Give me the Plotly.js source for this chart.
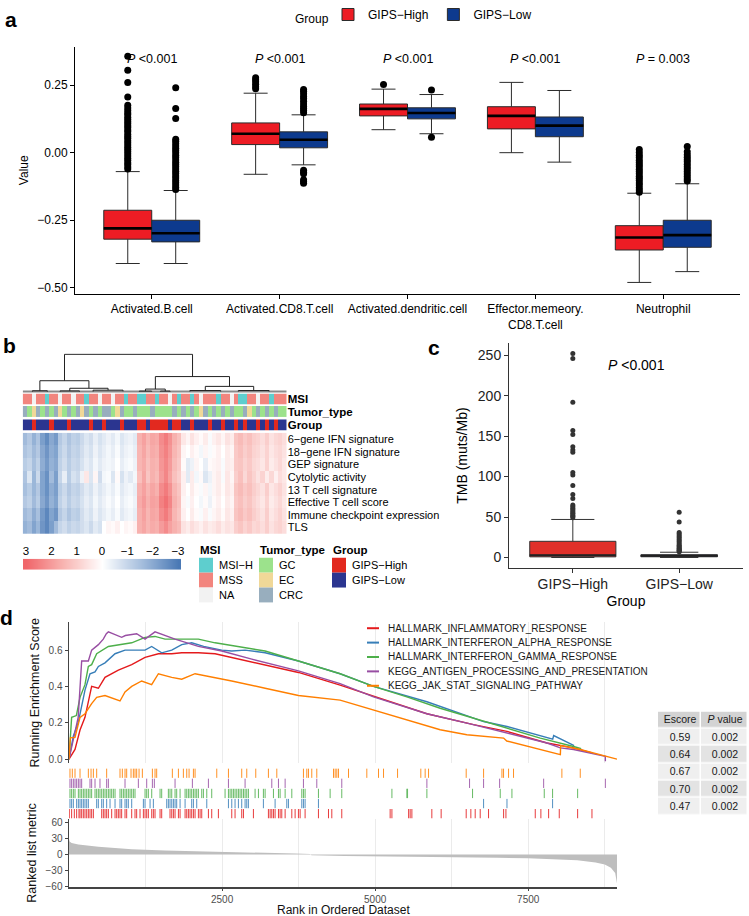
<!DOCTYPE html>
<html><head><meta charset="utf-8">
<script src="https://cdn.plot.ly/plotly-3.0.1.min.js"></script>
<style>html,body{margin:0;padding:0;background:#fff;}#chart{width:749px;height:916px;}</style>
</head><body><div id="chart"></div>
<script>
// ================= Panel a: immune cell scores =================
const cellTypes = ['Activated.B.cell','Activated.CD8.T.cell','Activated.dendritic.cell','Effector.memeory.<br>CD8.T.cell','Neutrophil'];
const groupNames = ['GIPS\u2212High','GIPS\u2212Low'];
const pValuesA = ['&lt;0.001','&lt;0.001','&lt;0.001','&lt;0.001','= 0.003'];
const highQ1 = [-0.32, 0.03, 0.136, 0.088, -0.36];
const highMedian = [-0.28, 0.07, 0.162, 0.136, -0.314];
const highQ3 = [-0.213, 0.11, 0.18, 0.17, -0.27];
const highLower = [-0.41, -0.08, 0.085, 0.0, -0.48];
const highUpper = [-0.07, 0.22, 0.235, 0.26, -0.15];
const lowQ1 = [-0.33, 0.018, 0.125, 0.059, -0.35];
const lowMedian = [-0.298, 0.048, 0.147, 0.1, -0.305];
const lowQ3 = [-0.25, 0.077, 0.166, 0.132, -0.25];
const lowLower = [-0.41, -0.045, 0.07, -0.035, -0.44];
const lowUpper = [-0.14, 0.14, 0.215, 0.23, -0.115];
const highOutliers = [
  [0.357,0.305,0.26,0.206,0.175,0.165,0.156,0.147,0.14,0.131,0.124,0.115,0.108,0.1,0.093,0.084,0.077,0.068,0.06,0.053,0.044,0.037,0.028,0.02,0.013,0.004,-0.004,-0.012,-0.021,-0.028,-0.037,-0.044,-0.053,-0.06],
  [0.236,0.244,0.253,0.262,0.27,0.277],
  [0.252],
  [],
  [0.012,0.001,-0.01,-0.018,-0.028,-0.036,-0.045,-0.052,-0.061,-0.07,-0.078,-0.087,-0.095,-0.103,-0.112,-0.12,-0.13,-0.138,-0.146]
];
const lowOutliers = [
  [0.24,0.163,0.126,0.05,0.042,0.033,0.025,0.016,0.008,0.0,-0.01,-0.018,-0.027,-0.035,-0.044,-0.052,-0.06,-0.069,-0.077,-0.086,-0.094,-0.103,-0.111,-0.12,-0.128,-0.136],
  [0.148,0.156,0.163,0.171,0.18,0.19,0.2,0.208,0.218,0.227,0.234,-0.065,-0.072,-0.078,-0.1,-0.107,-0.113],
  [0.232,0.057],
  [],
  [0.023,0.003,-0.008,-0.017,-0.026,-0.034,-0.043,-0.052,-0.06,-0.07,-0.079,-0.088,-0.097,-0.105]
];

// ================= Panel b: heatmap =================
const heatRowNames = ['6\u2212gene IFN signature','18\u2212gene IFN signature','GEP signature','Cytolytic activity','13 T cell signature','Effective T cell score','Immune checkpoint expression','TLS'];
const ifn6 = [-1.6,-1.3,-1.8,-1.4,-2.2,-2.6,-2.0,-2.3,-1.3,-1.0,-1.4,-1.1,-1.2,-0.9,-0.6,-0.8,-0.4,-0.7,-0.5,-0.3,-0.5,-0.2,-0.6,-0.4,-0.3,-0.5,1.6,1.9,1.5,1.8,1.7,2.3,2.6,2.2,1.6,1.3,0.5,0.2,0.6,0.3,0.1,0.4,-0.1,0.3,0.5,0.2,0.6,0.4,1.2,1.4,1.1,1.3,1.0,0.9,0.7,1.0,0.6,0.8,0.9,0.7];
const ifn18 = [-1.4,-1.2,-1.6,-1.3,-2.0,-2.4,-1.9,-2.1,-1.2,-0.9,-1.3,-1.0,-1.1,-0.8,-0.5,-0.7,-0.3,-0.6,-0.4,-0.2,-0.4,-0.1,-0.5,-0.3,-0.2,-0.4,1.5,1.8,1.4,1.7,1.6,2.2,2.5,2.1,1.5,1.2,0.2,0.0,0.3,0.1,-0.2,0.2,-0.1,0.1,0.3,0.0,0.4,0.2,1.1,1.3,1.0,1.2,0.9,0.8,0.6,0.9,0.5,0.7,0.8,0.6];
const gep = [-1.2,-1.0,-1.5,-1.1,-1.9,-2.3,-1.8,-2.0,-1.1,-0.8,-1.2,-0.9,-1.0,-0.7,-0.4,-0.6,-0.2,-0.5,-0.3,-0.2,-0.3,0.0,-0.4,-0.2,-0.1,-0.3,1.5,1.7,1.3,1.6,1.5,2.1,2.4,2.0,1.4,1.1,0.1,-0.5,-0.3,0.2,0.0,-0.4,0.1,0.2,0.3,-0.1,0.4,0.3,1.1,1.2,0.9,1.1,0.8,0.7,0.5,0.9,0.4,0.6,0.8,0.5];
const cytolytic = [-1.4,-0.6,-1.7,-0.9,-2.1,-2.5,-1.6,-2.2,-1.0,-0.4,-1.2,-0.7,-0.9,-0.3,0.5,-0.6,0.2,-0.8,-0.2,-0.1,-0.6,0.1,-0.7,-0.3,-0.5,-0.2,1.3,1.8,1.2,1.6,1.4,2.0,2.4,1.9,1.3,1.0,0.3,-0.5,0.4,-0.2,0.1,-0.6,-0.3,0.2,0.4,-0.1,0.5,0.2,1.0,1.3,0.8,1.2,0.9,0.6,0.9,0.4,0.8,0.3,0.7,0.5];
const tcell13 = [-1.5,-1.2,-1.7,-1.3,-2.1,-2.5,-1.9,-2.2,-1.2,-0.9,-1.3,-1.0,-1.1,-0.8,-0.5,-0.7,-0.3,-0.6,-0.4,-0.2,-0.4,-0.1,-0.5,-0.3,-0.2,-0.4,1.6,1.9,1.5,1.8,1.6,2.3,2.6,2.2,1.5,1.2,0.3,0.0,0.4,0.1,-0.1,0.2,-0.2,0.2,0.4,0.1,0.5,0.3,1.2,1.4,1.1,1.3,1.0,0.8,0.6,1.0,0.5,0.7,0.9,0.6];
const effectiveT = [-1.3,-1.1,-1.6,-1.2,-2.0,-2.4,-1.8,-2.1,-1.1,-0.8,-1.2,-0.9,-1.0,-0.7,-0.4,-0.6,-0.2,-0.5,-0.3,-0.1,-0.3,0.0,-0.4,-0.2,-0.1,-0.3,1.7,2.0,1.6,1.9,1.8,2.5,2.8,2.4,1.6,1.3,0.2,-0.1,0.3,0.0,-0.2,0.1,-0.3,0.1,0.3,0.0,0.4,0.2,1.1,1.3,1.0,1.2,0.9,0.7,0.5,0.9,0.4,0.6,0.8,0.5];
const checkpoint = [-1.6,-1.4,-1.9,-1.5,-2.3,-2.7,-2.1,-2.4,-1.3,-1.0,-1.4,-1.1,-1.2,-0.8,-0.5,-0.7,-0.3,-0.6,-0.4,-0.2,-0.4,-0.1,-0.5,-0.3,-0.2,-0.4,1.6,1.9,1.5,1.8,1.7,2.3,2.6,2.2,1.5,1.2,0.3,0.0,0.4,0.1,-0.1,0.3,-0.1,0.2,0.4,0.1,0.5,0.3,1.2,1.4,1.1,1.3,1.0,0.8,0.6,1.0,0.5,0.7,0.9,0.6];
const tls = [-1.8,-1.6,-2.1,-1.7,-2.4,-2.7,-2.2,-1.6,-1.0,-0.8,-1.1,-0.9,-1.0,-0.8,-0.6,-0.9,-0.5,-0.7,0.0,0.2,0.1,0.3,0.0,0.2,0.1,0.3,1.6,1.8,1.5,1.7,1.6,2.0,2.3,1.9,1.6,1.4,0.6,0.4,0.7,0.5,0.3,0.6,0.4,0.5,0.7,0.4,0.6,0.5,1.0,1.2,0.9,1.1,0.8,0.9,0.7,1.0,0.6,0.8,0.9,0.7];
const msiStatus = 'SSNSSHSSNSSNSSHSSNSSNSSHSSHHSSHSSNSHSSHSNSSSHSSNSHHSSNSSHSSS'.split('');
const tumorType = 'CGECGCGCEGCGCECGCGCCGECGGCGGGCGGGGCGCGCGECGCGCGCGGCEGCGCGCGG'.split('');
const sampleGroup = 'LLHLLLHLLLHLLLLHLLHLLLHLLLHHLHHHHLHHLLHLLLHLLHLLHLHLLHLHLHLL'.split('');
const msiLevels = ['MSI\u2212H','MSS','NA'];
const msiCodes = ['H','S','N'];
const tumorLevels = ['GC','EC','CRC'];
const tumorCodes = ['G','E','C'];
const groupCodes = ['H','L'];
const scaleTicks = [3,2,1,0,-1,-2,-3];
// dendrogram merges: [left position, left height, right position, right height, merge height] (column units)
const dendroMerges = [
  [9.0,3.0,38.1,4.1,10],
  [3.4,0.34,14.55,1.0,3.0],
  [29.65,0.79,46.5,1.5,4.1],
  [1.7,0.12,5.1,0.12,0.34],
  [10.2,0.3,18.9,0.5,1.0],
  [8.0,0.12,12.4,0.12,0.3],
  [15.5,0.15,22.3,0.2,0.5],
  [27.4,0.25,31.9,0.25,0.79],
  [26.0,0.12,28.8,0.12,0.25],
  [30.8,0.12,33.0,0.12,0.25],
  [41.0,0.4,52.0,0.4,1.5],
  [37.5,0.15,44.5,0.15,0.4],
  [48.5,0.15,55.5,0.15,0.4]
];

// ================= Panel c: TMB =================
const tmbGroups = ['GIPS\u2212High','GIPS\u2212Low'];
const tmbQ1 = [0.8, 0.9];
const tmbMedian = [2.8, 2.0];
const tmbQ3 = [20, 3.4];
const tmbLower = [0, 0];
const tmbUpper = [47, 6.5];
const tmbOutHigh = [49,51,52,54,55,57,59,61,63,65,73,78,89,102,105,130,133,137,152,157,192,246,252];
const tmbOutLow = [7,8,9,10,11,12,14,15,17,19,21,23,25,27,29,31,44,56];

// ================= Panel d: GSEA =================
const geneSets = ['HALLMARK_INFLAMMATORY_RESPONSE','HALLMARK_INTERFERON_ALPHA_RESPONSE','HALLMARK_INTERFERON_GAMMA_RESPONSE','KEGG_ANTIGEN_PROCESSING_AND_PRESENTATION','KEGG_JAK_STAT_SIGNALING_PATHWAY'];
const setColors = ['#E41A1C','#377EB8','#4DAF4A','#984EA3','#FF7F00'];
const esInflamRank = [0,98,180,261,370,480,588,697,806,1024,1242,1460,1678,1841,2113,2386,2658,3203,3747,4428,5245,5845,6607,7153,7807,8241,8541];
const esInflamScore = [0,0.054,0.16,0.23,0.40,0.39,0.45,0.47,0.49,0.52,0.56,0.58,0.58,0.585,0.585,0.58,0.56,0.52,0.477,0.407,0.316,0.25,0.19,0.153,0.089,0.062,0.035];
const esAlphaRank = [0,70,150,261,343,425,480,588,752,915,1078,1242,1350,1514,1678,1841,2004,2200,2495,2658,2876,3203,3747,4428,4973,5845,6770,7153,7900,7916,8250];
const esAlphaScore = [0,0.126,0.2,0.38,0.47,0.48,0.51,0.53,0.58,0.60,0.60,0.60,0.62,0.585,0.60,0.63,0.64,0.62,0.60,0.595,0.60,0.585,0.54,0.47,0.40,0.316,0.207,0.18,0.11,0.13,0.075];
const esGammaRank = [0,43,120,180,261,316,370,452,643,806,1024,1242,1405,1569,1787,2113,2386,2767,3203,3747,4428,4973,5518,6062,6607,7043,7697,8241,8366];
const esGammaScore = [0,0.23,0.24,0.34,0.41,0.51,0.52,0.58,0.62,0.63,0.64,0.67,0.675,0.66,0.66,0.66,0.64,0.62,0.595,0.54,0.47,0.40,0.343,0.28,0.225,0.18,0.116,0.07,0.058];
const esAntigenRank = [0,70,150,207,316,370,480,560,610,643,860,920,1105,1242,1405,1732,2113,2495,2985,3747,4428,4973,5845,6552,7153,7807,8025,8241,8759,8760];
const esAntigenScore = [0,0.11,0.23,0.54,0.54,0.60,0.63,0.66,0.69,0.70,0.67,0.68,0.69,0.66,0.70,0.66,0.62,0.595,0.55,0.486,0.416,0.343,0.25,0.194,0.143,0.089,0.062,0.053,0.016,-0.012];
const esJakRank = [0,22,98,180,261,370,452,588,833,915,1024,1187,1350,1460,1678,1841,2059,2220,2386,2658,3203,3747,4428,4973,5518,6062,6498,7098,7150,8025,8030,8350,8950];
const esJakScore = [0,0.117,0.12,0.23,0.25,0.306,0.34,0.35,0.32,0.37,0.40,0.43,0.41,0.47,0.45,0.44,0.47,0.46,0.45,0.43,0.39,0.35,0.325,0.27,0.216,0.162,0.134,0.116,0.1,0.025,0.075,0.053,0.0];
const hitsInflam = [5,43,87,125,163,180,207,234,261,289,316,343,370,398,534,561,588,615,643,697,752,779,806,833,860,915,942,1024,1078,1105,1160,1215,1242,1269,1296,1351,1378,1405,1487,1514,1650,1678,1705,1732,1787,1814,1896,1923,1950,1977,2004,2032,2059,2113,2141,2168,2277,2331,2440,2658,2712,2821,2849,3012,3257,3285,3312,3339,3366,3421,3448,3475,3530,3639,3693,3747,3775,3856,4074,4238,4292,4455,5245,5274,5547,5572,5600,5926,6078,6487,6563,6634,6716,6852,7098,7136,7615,7707,7833,8007,8307,8541];
const hitsAlpha = [16,43,71,125,153,180,207,234,261,289,316,452,479,534,561,615,670,752,833,860,915,942,969,1024,1215,1242,1324,1378,1596,1623,1650,1678,1705,1732,1759,1814,1896,2004,2032,2086,2250,2604,2658,2712,2767,2821,2876,2903,2930,3175,3366,3557,3584,3802,3829,3856,4074,6771,7153,7898];
const hitsGamma = [16,43,71,98,153,180,207,234,261,289,316,343,370,425,452,479,506,534,561,588,615,643,670,697,724,752,833,860,888,915,942,969,997,1024,1051,1078,1242,1269,1296,1351,1487,1514,1623,1650,1678,1732,1759,1814,1896,1923,1950,1977,2004,2032,2059,2086,2113,2168,2195,2250,2331,2549,2604,2631,2658,2685,2712,2740,2767,2794,2821,2849,2876,2903,2930,3039,3094,3175,3203,3339,3421,3448,3530,3639,3802,3829,3856,4074,4265,4455,5274,5518,5529,5845,6591,7043,7234,7762,7898,8307];
const hitsAntigen = [16,43,71,98,125,153,180,207,343,370,425,506,615,643,915,1133,1269,1362,1394,1732,2015,2277,2604,2876,3312,3421,3530,3829,4047,4455,5845,6542,6771,7033,7752,8760];
const hitsJak = [16,54,98,180,316,360,398,452,615,833,871,915,942,1013,1051,1078,1105,1144,1198,1362,1405,1432,1688,1787,1868,1923,1961,2032,2059,2413,2604,2821,2903,3050,3257,3394,3829,3884,3911,3965,4047,4320,4347,4374,4401,4565,4864,5055,5137,5366,5746,5817,5872,6487,6771,7071,7097,7179,7260,8050,8350];
const metricRank = [0,10,43,153,480,1024,1569,2495,3203,3700,3940,3960,4500,5000,6000,6500,7000,7500,8000,8300,8600,8750,8850,8920,8950];
const metricValue = [30,25,22,19,15,10,7.5,5.6,3.8,2.0,1.0,-1.5,-2.5,-3,-4,-5,-6,-7,-9,-11,-15,-19,-25,-35,-55];
const tableHeader = ['Escore', '<i>P</i> value'];
const escoreValues = ['0.59','0.64','0.67','0.70','0.47'];
const pValueTable = ['0.002','0.002','0.002','0.002','0.002'];

// ================= helpers =================
const W = 749, H = 916;
const FONT = 'Liberation Sans, Arial, Helvetica, sans-serif';
const dx = (a, b) => [a / W, b / W];
const dy = (top, bottom) => [1 - bottom / H, 1 - top / H];
const px = v => v / W;
const py = v => 1 - v / H;
const traces = [];
const annotations = [];
const shapes = [];
const skip = 'skip';

// ---------- panel a ----------
const boxW = 0.375;
const HIGH_RED = '#ED1C24', LOW_BLUE = '#0D3A8E';
const posHigh = cellTypes.map((_, i) => i + 1 - boxW / 2);
const posLow = cellTypes.map((_, i) => i + 1 + boxW / 2);
[[posHigh, highQ1, highMedian, highQ3, highLower, highUpper, HIGH_RED, groupNames[0], highOutliers],
 [posLow, lowQ1, lowMedian, lowQ3, lowLower, lowUpper, LOW_BLUE, groupNames[1], lowOutliers]].forEach(g => {
  const [pos, q1, med, q3, lo, up, col, name, outs] = g;
  traces.push({type: 'box', x: pos, q1: q1, median: med, q3: q3, lowerfence: lo, upperfence: up,
    width: boxW, fillcolor: col, line: {color: '#2b2b2b', width: 1}, name: name,
    xaxis: 'x', yaxis: 'y', hoverinfo: skip, showlegend: true, legend: 'legend'});
  const mx = [], my = [];
  pos.forEach((p, i) => { mx.push(p - boxW / 2, p + boxW / 2, null); my.push(med[i], med[i], null); });
  traces.push({type: 'scatter', mode: 'lines', x: mx, y: my, xaxis: 'x', yaxis: 'y',
    line: {color: '#000', width: 2.6}, showlegend: false, hoverinfo: skip});
  const ox = [], oy = [];
  outs.forEach((arr, i) => arr.forEach(v => { ox.push(pos[i]); oy.push(v); }));
  traces.push({type: 'scatter', mode: 'markers', x: ox, y: oy, xaxis: 'x', yaxis: 'y',
    marker: {color: '#000', size: 7}, showlegend: false, hoverinfo: skip});
});
cellTypes.forEach((c, i) => annotations.push({x: i + 1, xref: 'x', y: py(52), yref: 'paper', xanchor: 'center', yanchor: 'middle',
  text: '<i>P</i> ' + pValuesA[i], showarrow: false, font: {size: 12.5, color: '#000'}}));
annotations.push({x: px(331), y: py(12), xref: 'paper', yref: 'paper', xanchor: 'right', yanchor: 'middle',
  text: 'Group', showarrow: false, font: {size: 12, color: '#000'}});

// ---------- panel b ----------
const N = ifn6.length;
const colIdx = Array.from({length: N}, (_, i) => i);
const heatScale = [[0, '#4A79B5'], [0.25, '#A8C0DE'], [0.5, '#FFFFFF'], [0.75, '#F8B6B3'], [1, '#F0666A']];
const dxs = [], dys = [];
dendroMerges.forEach(m => { dxs.push(m[0], m[0], m[2], m[2], null); dys.push(m[1], m[4], m[4], m[3], null); });
traces.push({type: 'scatter', mode: 'lines', x: [-0.5, N - 0.5], y: [0.12, 0.12], xaxis: 'x2', yaxis: 'y2',
  line: {color: '#8a8a8a', width: 2}, showlegend: false, hoverinfo: skip});
traces.push({type: 'scatter', mode: 'lines', x: dxs, y: dys, xaxis: 'x2', yaxis: 'y2',
  line: {color: '#222', width: 1}, showlegend: false, hoverinfo: skip});
const msiColors = ['#5ECECE', '#F2857E', '#F2F2F2'];
const tumorColors = ['#9CE28C', '#F0D898', '#98AEBE'];
const groupColors = ['#E2291F', '#2B3590'];
function discreteScale(cols) {
  const n = cols.length, out = [];
  cols.forEach((c, i) => { out.push([i / n, c]); out.push([(i + 1) / n, c]); });
  return out;
}
[[msiStatus, msiCodes, msiColors, 'y3'], [tumorType, tumorCodes, tumorColors, 'y4'], [sampleGroup, groupCodes, groupColors, 'y5']].forEach(b => {
  const [vals, codes, cols, ax] = b;
  traces.push({type: 'heatmap', z: [vals.map(v => codes.indexOf(v))], x: colIdx, y: [0],
    zmin: -0.5, zmax: codes.length - 0.5, colorscale: discreteScale(cols), showscale: false,
    xaxis: 'x2', yaxis: ax, hoverinfo: skip});
});
traces.push({type: 'heatmap', z: [ifn6, ifn18, gep, cytolytic, tcell13, effectiveT, checkpoint, tls],
  x: colIdx, y: heatRowNames.map((_, i) => i), zmin: -3, zmax: 3, colorscale: heatScale, showscale: false,
  xaxis: 'x2', yaxis: 'y6', hoverinfo: skip});
const scaleAsc = scaleTicks.slice().sort((a, b) => a - b);
traces.push({type: 'heatmap', z: [scaleAsc], x: scaleAsc, y: [0], zmin: -3, zmax: 3, zsmooth: 'best',
  colorscale: heatScale, showscale: false, xaxis: 'x7', yaxis: 'y7', hoverinfo: skip});
// categorical legends
[[ 'MSI', msiLevels, msiColors, 199], ['Tumor_type', tumorLevels, tumorColors, 259], ['Group', groupNames, groupColors, 332]].forEach(l => {
  const [title, levels, cols, x0] = l;
  annotations.push({x: px(x0 - 1), y: py(547), xref: 'paper', yref: 'paper', xanchor: 'left', yanchor: 'middle',
    text: '<b>' + title + '</b>', showarrow: false, font: {size: 11.5, color: '#000'}});
  levels.forEach((lv, i) => {
    shapes.push({type: 'rect', xref: 'paper', yref: 'paper', x0: px(x0), x1: px(x0 + 14),
      y0: py(555 + 15 * i), y1: py(570 + 15 * i), fillcolor: cols[i], line: {width: 0}});
    annotations.push({x: px(x0 + 18), y: py(562.5 + 15 * i), xref: 'paper', yref: 'paper', xanchor: 'left', yanchor: 'middle',
      text: lv, showarrow: false, font: {size: 11, color: '#000'}});
  });
});

// ---------- panel c ----------
const tmbWidths = [0.81, 0.72];
const tmbFill = ['#E0302A', '#2A2A6A'];
tmbGroups.forEach((g, i) => {
  traces.push({type: 'box', x: [i + 1], q1: [tmbQ1[i]], median: [tmbMedian[i]], q3: [tmbQ3[i]],
    lowerfence: [tmbLower[i]], upperfence: [tmbUpper[i]], width: tmbWidths[i], fillcolor: tmbFill[i],
    line: {color: '#333', width: 1}, xaxis: 'x8', yaxis: 'y8', showlegend: false, hoverinfo: skip, name: g});
  traces.push({type: 'scatter', mode: 'lines', x: [i + 1 - tmbWidths[i] / 2, i + 1 + tmbWidths[i] / 2], y: [tmbMedian[i], tmbMedian[i]],
    xaxis: 'x8', yaxis: 'y8', line: {color: '#222', width: 2}, showlegend: false, hoverinfo: skip});
});
[tmbOutHigh, tmbOutLow].forEach((arr, i) => traces.push({type: 'scatter', mode: 'markers',
  x: arr.map(() => i + 1), y: arr, xaxis: 'x8', yaxis: 'y8', marker: {color: '#333', size: 5},
  showlegend: false, hoverinfo: skip}));
annotations.push({x: 1.6, xref: 'x8', y: py(361), yref: 'paper', xanchor: 'center', yanchor: 'middle',
  text: '<i>P</i> &lt;0.001', showarrow: false, font: {size: 14, color: '#000'}});

// ---------- panel d ----------
const esRanks = [esInflamRank, esAlphaRank, esGammaRank, esAntigenRank, esJakRank];
const esScores = [esInflamScore, esAlphaScore, esGammaScore, esAntigenScore, esJakScore];
const hits = [hitsInflam, hitsAlpha, hitsGamma, hitsAntigen, hitsJak];
traces.push({type: 'scatter', mode: 'lines', x: metricRank, y: metricValue, xaxis: 'x11', yaxis: 'y11',
  fill: 'tozeroy', fillcolor: '#BEBEBE', line: {width: 0, color: '#BEBEBE'}, showlegend: false, hoverinfo: skip});
geneSets.forEach((name, k) => {
  const xs = [], ys = [];
  hits[k].forEach(r => { xs.push(r, r, null); ys.push(k + 0.04, k + 0.96, null); });
  traces.push({type: 'scatter', mode: 'lines', x: xs, y: ys, xaxis: 'x10', yaxis: 'y10',
    line: {color: setColors[k], width: 1}, opacity: 0.85, showlegend: false, hoverinfo: skip});
});
geneSets.forEach((name, k) => {
  traces.push({type: 'scatter', mode: 'lines', x: esRanks[k], y: esScores[k], xaxis: 'x9', yaxis: 'y9',
    line: {color: setColors[k], width: 1.4}, name: name, showlegend: false, hoverinfo: skip});
  shapes.push({type: 'line', xref: 'paper', yref: 'paper', x0: px(367), x1: px(379),
    y0: py(626 + 14.5 * k), y1: py(626 + 14.5 * k), line: {color: setColors[k], width: 2}});
  annotations.push({x: px(386), y: py(626 + 14.5 * k), xref: 'paper', yref: 'paper', xanchor: 'left', yanchor: 'middle',
    text: name, showarrow: false, font: {size: 10, color: '#1a1a1a'}});
});
annotations.push({x: px(343), y: py(910), xref: 'paper', yref: 'paper', xanchor: 'center', yanchor: 'middle',
  text: 'Rank in Ordered Dataset', showarrow: false, font: {size: 12, color: '#111'}});
// statistics table drawn as a heatmap grid with text
const tableText = [tableHeader].concat(escoreValues.map((v, i) => [v, pValueTable[i]]));
const tableShade = tableText.map((row, i) => row.map(() => (i === 0 ? 2 : (i % 2 === 0 ? 1 : 0))));
traces.push({type: 'heatmap', z: tableShade, text: tableText, texttemplate: '%{text}',
  textfont: {family: FONT, size: 10.5, color: '#1a1a1a'}, x: [0, 43, 90], y: [0, 17, 34.5, 52, 69.5, 87, 104.5],
  zmin: 0, zmax: 2, colorscale: discreteScale(['#EFEFEF', '#E3E3E3', '#D3D3D3']), showscale: false,
  xgap: 1.5, ygap: 1.5, xaxis: 'x12', yaxis: 'y12', hoverinfo: skip});

// panel letters
[['a', 11, 13], ['b', 9, 341], ['c', 434, 343], ['d', 7, 615]].forEach(l => annotations.push({
  x: px(l[1]), y: py(l[2]), xref: 'paper', yref: 'paper', xanchor: 'center', yanchor: 'middle',
  text: '<b>' + l[0] + '</b>', showarrow: false, font: {size: 21, color: '#000'}}));

const axBase = {showgrid: false, zeroline: false};
const hidden = {visible: false, showgrid: false, zeroline: false};
const gseaGrid = {showgrid: true, gridcolor: '#EBEBEB', gridwidth: 1,
  minor: {tickmode: 'array', tickvals: [1250, 3750, 6250, 8750], showgrid: true, gridcolor: '#EBEBEB', gridwidth: 1, ticks: ''}};
const layout = {
  width: W, height: H, margin: {l: 0, r: 0, t: 0, b: 0}, paper_bgcolor: '#fff', plot_bgcolor: 'rgba(0,0,0,0)',
  font: {family: FONT, size: 12, color: '#000'}, showlegend: true,
  legend: {orientation: 'h', x: px(328), xanchor: 'left', y: 1.008, yanchor: 'top',
    font: {size: 12}, bgcolor: 'rgba(0,0,0,0)'},
  xaxis: Object.assign({}, axBase, {domain: dx(75, 740), range: [0.4, 5.6], anchor: 'y', tickmode: 'array',
    tickvals: cellTypes.map((_, i) => i + 1), ticktext: cellTypes, showline: true, linecolor: '#000', linewidth: 1,
    ticks: 'outside', ticklen: 4, tickcolor: '#000', tickfont: {size: 12, color: '#000'}}),
  yaxis: Object.assign({}, axBase, {domain: dy(40, 289), range: [-0.522, 0.392], anchor: 'x', tickmode: 'array',
    tickvals: [-0.5, -0.25, 0, 0.25], ticktext: ['\u22120.50', '\u22120.25', '0.00', '0.25'], showline: true,
    linecolor: '#000', linewidth: 1, ticks: 'outside', ticklen: 4, tickcolor: '#000', tickfont: {size: 12, color: '#000'},
    title: {text: 'Value', font: {size: 12}, standoff: 6}}),
  xaxis2: Object.assign({}, hidden, {domain: dx(22.7, 286.7), range: [-0.5, N - 0.5], anchor: 'y6'}),
  yaxis2: Object.assign({}, hidden, {domain: dy(349, 389), range: [-0.26, 10.26], anchor: 'x2'}),
  yaxis3: Object.assign({}, axBase, {domain: dy(389.5, 400.5), range: [-0.5, 0.5], anchor: 'x2', side: 'right',
    tickmode: 'array', tickvals: [0], ticktext: ['<b>MSI</b>'], ticks: '', tickfont: {size: 11.5, color: '#000'}}),
  yaxis4: Object.assign({}, axBase, {domain: dy(402, 413.5), range: [-0.5, 0.5], anchor: 'x2', side: 'right',
    tickmode: 'array', tickvals: [0], ticktext: ['<b>Tumor_type</b>'], ticks: '', tickfont: {size: 11.5, color: '#000'}}),
  yaxis5: Object.assign({}, axBase, {domain: dy(415.5, 427), range: [-0.5, 0.5], anchor: 'x2', side: 'right',
    tickmode: 'array', tickvals: [0], ticktext: ['<b>Group</b>'], ticks: '', tickfont: {size: 11.5, color: '#000'}}),
  yaxis6: Object.assign({}, axBase, {domain: dy(429, 531), range: [7.5, -0.5], anchor: 'x2', side: 'right',
    tickmode: 'array', tickvals: heatRowNames.map((_, i) => i), ticktext: heatRowNames, ticks: '',
    tickfont: {size: 11, color: '#000'}}),
  xaxis7: Object.assign({}, axBase, {domain: dx(23, 181), range: [3.12, -3.12], anchor: 'y7', side: 'top',
    tickmode: 'array', tickvals: scaleTicks, ticks: '', tickfont: {size: 11.5, color: '#000'}}),
  yaxis7: Object.assign({}, hidden, {domain: dy(556, 567), range: [-0.5, 0.5], anchor: 'x7'}),
  xaxis8: Object.assign({}, axBase, {domain: dx(509, 743), range: [0.4, 2.6], anchor: 'y8', tickmode: 'array',
    tickvals: [1, 2], ticktext: tmbGroups, showline: true, linecolor: '#333', linewidth: 1, ticks: 'outside',
    ticklen: 4, tickcolor: '#333', tickfont: {size: 14, color: '#222'}, title: {text: 'Group', font: {size: 14}, standoff: 4}}),
  yaxis8: Object.assign({}, axBase, {domain: dy(339, 565), range: [-12.6, 264.6], anchor: 'x8', tickmode: 'array',
    tickvals: [0, 50, 100, 150, 200, 250], showline: true, linecolor: '#333', linewidth: 1, ticks: 'outside',
    ticklen: 4, tickcolor: '#333', tickfont: {size: 14, color: '#222'}, title: {text: 'TMB (muts/Mb)', font: {size: 14}, standoff: 6}}),
  xaxis9: Object.assign({}, gseaGrid, {domain: dx(69, 617), range: [0, 8950], anchor: 'y9', tickmode: 'array',
    tickvals: [2500, 5000, 7500], showticklabels: false, ticks: '', showline: false, zeroline: false}),
  yaxis9: Object.assign({}, axBase, {domain: dy(620, 762), range: [-0.022, 0.753], anchor: 'x9', tickmode: 'array',
    tickvals: [0, 0.2, 0.4, 0.6], ticktext: ['0.0', '0.2', '0.4', '0.6'], showline: true, linecolor: '#444', linewidth: 1.5,
    ticks: 'outside', ticklen: 3, tickcolor: '#444', tickfont: {size: 10, color: '#4D4D4D'},
    title: {text: 'Running Enrichment Score', font: {size: 12.5, color: '#111'}, standoff: 6}}),
  xaxis10: Object.assign({}, hidden, {domain: dx(69, 617), range: [0, 8950], anchor: 'y10'}),
  yaxis10: Object.assign({}, hidden, {domain: dy(767, 818), range: [0, 5], anchor: 'x10'}),
  xaxis11: Object.assign({}, gseaGrid, {domain: dx(69, 617), range: [0, 8950], anchor: 'y11', tickmode: 'array',
    tickvals: [2500, 5000, 7500], showline: true, linecolor: '#444', linewidth: 1.5, ticks: 'outside', ticklen: 2,
    tickcolor: '#444', zeroline: false, tickfont: {size: 10, color: '#4D4D4D'}}),
  yaxis11: Object.assign({}, axBase, {domain: dy(818, 887), range: [-62, 68], anchor: 'x11', tickmode: 'array',
    tickvals: [-60, -30, 0, 30, 60], showline: true, linecolor: '#444', linewidth: 1.5, ticks: 'outside', ticklen: 3,
    tickcolor: '#444', tickfont: {size: 10, color: '#4D4D4D'},
    title: {text: 'Ranked list metric', font: {size: 12.5, color: '#111'}, standoff: 6}}),
  xaxis12: Object.assign({}, hidden, {domain: dx(658, 748), range: [0, 90], anchor: 'y12'}),
  yaxis12: Object.assign({}, hidden, {domain: dy(710, 814.5), range: [104.5, 0], anchor: 'x12'}),
  annotations: annotations,
  shapes: shapes
};
Plotly.newPlot('chart', traces, layout, {staticPlot: true, displayModeBar: false});
</script></body></html>
